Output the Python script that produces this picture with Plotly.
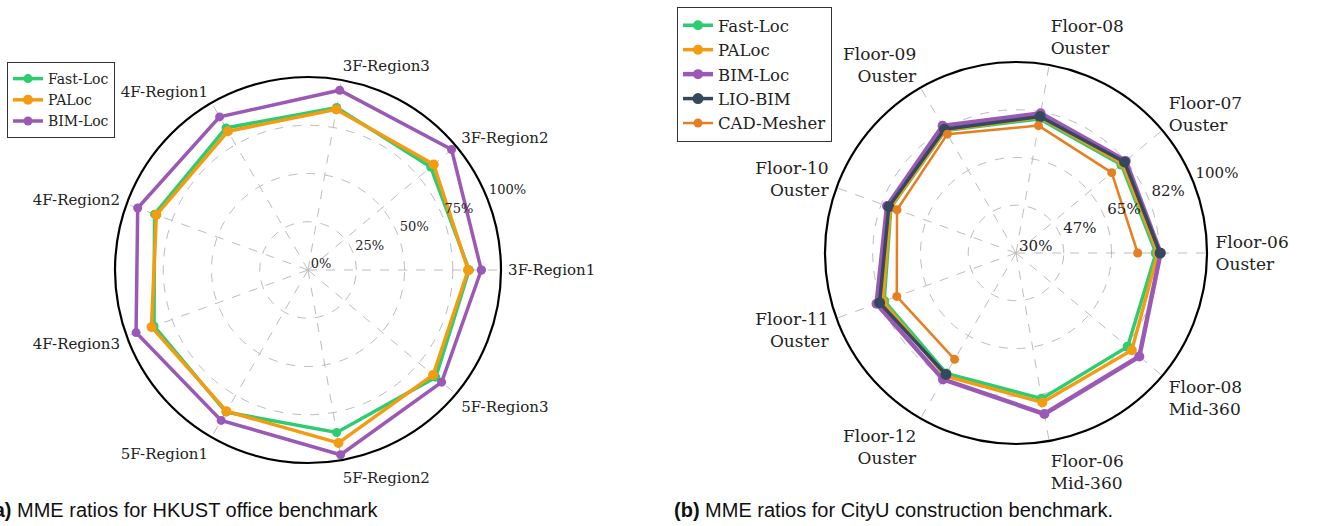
import plotly.graph_objects as go

# ---------------- data ----------------
cats_a = ['3F-Region1', '3F-Region2', '3F-Region3', '4F-Region1', '4F-Region2',
          '4F-Region3', '5F-Region1', '5F-Region2', '5F-Region3']
fast_a = [83.5, 83.0, 85.5, 85.0, 84.6, 84.9, 85.0, 85.5, 86.4]
paloc_a = [83.0, 85.0, 84.5, 83.0, 83.6, 86.3, 84.5, 91.0, 84.6]
bim_a = [89.8, 97.1, 94.6, 91.6, 93.9, 94.8, 90.0, 97.2, 90.4]
rticks_a = [0, 25, 50, 75, 100]
rtext_a = ['0%', '25%', '50%', '75%', '100%']

cats_b = ['Floor-06<br>Ouster', 'Floor-07<br>Ouster', 'Floor-08<br>Ouster', 'Floor-09<br>Ouster',
          'Floor-10<br>Ouster', 'Floor-11<br>Ouster', 'Floor-12<br>Ouster',
          'Floor-06<br>Mid-360', 'Floor-08<br>Mid-360']
fast_b = [81.3, 80.4, 79.9, 81.8, 78.8, 81.4, 81.0, 84.2, 83.4]
paloc_b = [82.0, 81.0, 80.5, 82.0, 79.0, 82.0, 82.0, 85.6, 85.4]
bim_b = [83.0, 82.5, 82.0, 83.8, 80.3, 84.4, 83.5, 89.9, 89.0]
lio_b = [82.8, 81.9, 80.8, 82.4, 79.6, 83.2, 81.4, None, None]
cad_b = [74.6, 75.8, 77.4, 80.3, 76.4, 76.5, 75.0, None, None]
rticks_b = [30, 47.5, 65, 82.5, 100]
rtext_b = ['30%', '47%', '65%', '82%', '100%']

C_FAST = '#2ecc71'
C_PAL = '#f39c12'
C_BIM = '#9b59b6'
C_LIO = '#34495e'
C_CAD = '#e67e22'

W, H = 1317, 526
SERIF = 'DejaVu Serif'

fig = go.Figure()


def closed(c, v):
    return list(c) + [c[0]], list(v) + [v[0]]


# left chart
for name, vals, col, lw, ms in [('Fast-Loc', fast_a, C_FAST, 3.5, 9),
                                ('PALoc', paloc_a, C_PAL, 3.5, 10),
                                ('BIM-Loc', bim_a, C_BIM, 3.5, 9)]:
    th, r = closed(cats_a, vals)
    fig.add_trace(go.Scatterpolar(r=r, theta=th, mode='lines+markers', name=name,
                                  line=dict(color=col, width=lw),
                                  marker=dict(color=col, size=ms),
                                  subplot='polar', legend='legend'))

# right chart
for name, vals, col, lw, ms, close in [('Fast-Loc', fast_b, C_FAST, 3.5, 10, True),
                                       ('PALoc', paloc_b, C_PAL, 3.5, 10, True),
                                       ('BIM-Loc', bim_b, C_BIM, 4.5, 10, True),
                                       ('LIO-BIM', lio_b, C_LIO, 3.5, 11, False),
                                       ('CAD-Mesher', cad_b, C_CAD, 2.5, 9, False)]:
    if close:
        th, r = closed(cats_b, vals)
    else:
        th, r = list(cats_b), list(vals)
    fig.add_trace(go.Scatterpolar(r=r, theta=th, mode='lines+markers', name=name,
                                  line=dict(color=col, width=lw),
                                  marker=dict(color=col, size=ms),
                                  connectgaps=False,
                                  subplot='polar2', legend='legend2'))


def px_dom(cx, cy, rad):
    return dict(x=[(cx - rad) / W, (cx + rad) / W],
                y=[(H - cy - rad) / H, (H - cy + rad) / H])


def lift(labels, px):
    # raise the radial tick labels above the radial axis line
    return ['<span style="baseline-shift:%dpx">%s</span>' % (px, t) for t in labels]


def polar_cfg(dom, rng, tv, tt, cats, fsize, rfsize, tlen, shift):
    return dict(
        domain=dom,
        bgcolor='white',
        angularaxis=dict(type='category', categoryarray=cats, rotation=0,
                         direction='counterclockwise', showline=True,
                         linecolor='black', linewidth=2.2,
                         gridcolor='#bdbdbd', griddash='dash', gridwidth=1,
                         ticks='outside', ticklen=tlen, tickcolor='rgba(0,0,0,0)',
                         tickfont=dict(family=SERIF, size=fsize, color='#222')),
        radialaxis=dict(range=rng, tickvals=tv, ticktext=lift(tt, shift), angle=22.5,
                        side='clockwise', tickangle=22.5,
                        showline=False, ticks='', gridcolor='#bdbdbd',
                        griddash='dash', gridwidth=1,
                        tickfont=dict(family=SERIF, size=rfsize, color='#222')),
    )


fig.update_layout(
    width=W, height=H,
    margin=dict(l=0, r=0, t=0, b=0),
    paper_bgcolor='white',
    plot_bgcolor='white',
    polar=polar_cfg(px_dom(308, 270, 193), [0, 100], rticks_a, rtext_a, cats_a, 15, 13, 3, 15),
    polar2=polar_cfg(px_dom(1016, 253, 191), [30, 100], rticks_b, rtext_b, cats_b, 17, 15, 4, 17),
    legend=dict(x=7 / W, y=1 - 62 / H, xanchor='left', yanchor='top',
                bgcolor='white', bordercolor='#333', borderwidth=1,
                font=dict(family=SERIF, size=14, color='#222'),
                itemwidth=30, tracegroupgap=0),
    legend2=dict(x=677 / W, y=1 - 7 / H, xanchor='left', yanchor='top',
                 bgcolor='white', bordercolor='#333', borderwidth=1,
                 font=dict(family=SERIF, size=16.5, color='#222'),
                 itemwidth=30, tracegroupgap=0),
    annotations=[
        dict(text='<b>(a)</b> MME ratios for HKUST office benchmark',
             x=-15 / W, y=1 - 510 / H, xref='paper', yref='paper',
             xanchor='left', yanchor='middle', showarrow=False,
             font=dict(family='Liberation Sans', size=20, color='#111')),
        dict(text='<b>(b)</b> MME ratios for CityU construction benchmark.',
             x=672 / W, y=1 - 510 / H, xref='paper', yref='paper',
             xanchor='left', yanchor='middle', showarrow=False,
             font=dict(family='Liberation Sans', size=20, color='#111')),
    ],
)

fig.write_html('out.html', config={'displayModeBar': False},
               post_script="document.body.style.margin='0';document.body.style.overflow='hidden';")
